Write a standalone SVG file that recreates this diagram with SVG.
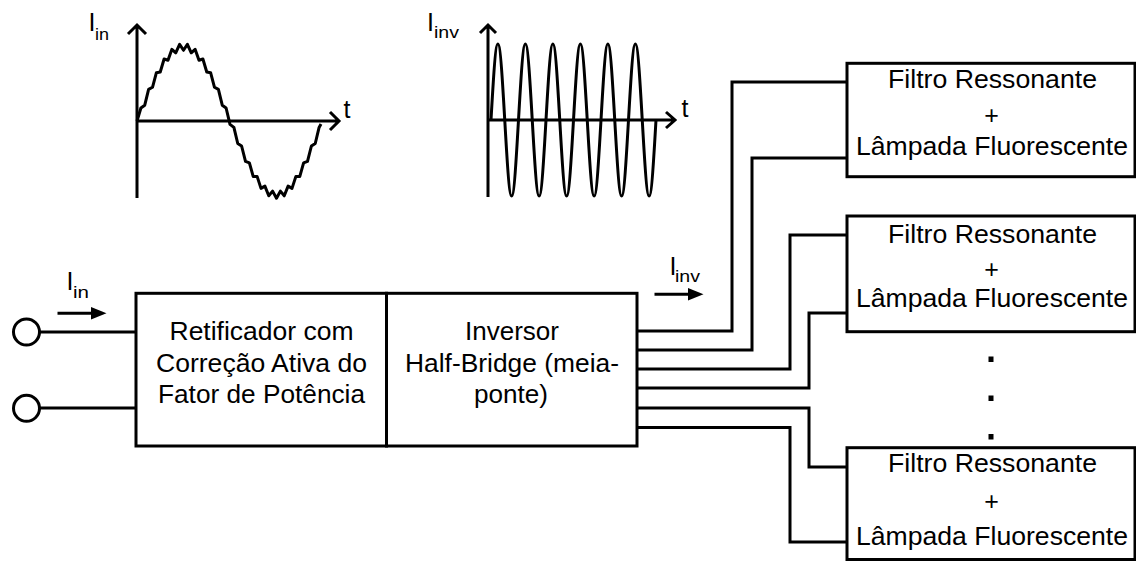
<svg xmlns="http://www.w3.org/2000/svg" width="1136" height="561" viewBox="0 0 1136 561">
<style>
.box{fill:#fff;stroke:#000;stroke-width:3}
.ln{fill:none;stroke:#000;stroke-width:3;stroke-linejoin:miter;stroke-linecap:square}
.ax{fill:none;stroke:#000;stroke-width:3}
.wave{fill:none;stroke:#000;stroke-width:3;stroke-linejoin:round}
.t{font-family:"Liberation Sans",Arial,sans-serif;font-size:25px;fill:#000}
.c{text-anchor:middle}
.s{font-family:"Liberation Sans",Arial,sans-serif;font-size:17px;fill:#000}
</style>
<rect width="1136" height="561" fill="#fff"/>

<g id="plot-iin">
<path class="ax" d="M137,198 V26 M128,34 L137,25 L146,34 M137,121 H339 M330,112 L339,121 L330,130"/>
<polyline class="wave" points="137,121 140.9,108 144.75,105.2 148.6,89.4 152.5,87.3 156.4,72.7 160.25,72 164.1,59 168,60.2 171.9,49.3 175.75,52.8 179.6,44.3 183.5,50.3 187.4,44.3 191.25,52.8 195.1,49.3 199,60.2 202.9,59 206.75,72 210.6,72.7 214.5,87.3 218.4,89.4 222.25,105.2 226.1,108 230,124.3 233.9,127.4 237.75,143.5 241.6,146 245.5,161.3 249.4,162.8 253.25,176.6 257.1,176.4 261,188.4 264.9,186.1 268.75,195.8 272.6,191.1 276.5,198.3 280.4,191.1 284.25,195.8 288.1,186.1 292,188.4 295.9,176.4 299.75,176.6 303.6,162.8 307.5,161.3 311.4,146 315.25,143.5 319.1,127.4 321,124"/>
<text class="t" x="88.5" y="31" font-size="26">I</text><text class="s" x="95" y="40" textLength="14" lengthAdjust="spacingAndGlyphs">in</text>
<text class="t" x="343.5" y="118" font-size="24">t</text>
</g>

<g id="plot-iinv">
<path class="ax" d="M488,197 V26 M480,33 L488,25 L496,33 M488,120 H674 M666,112 L675,120 L666,128"/>
<path class="wave" d="M491,120 c2.242,-38.93 4.387,-76 6.875,-76 s4.633,37.07 6.875,76 s4.387,76 6.875,76 s4.633,-37.07 6.875,-76 s4.387,-76 6.875,-76 s4.633,37.07 6.875,76 s4.387,76 6.875,76 s4.633,-37.07 6.875,-76 s4.387,-76 6.875,-76 s4.633,37.07 6.875,76 s4.387,76 6.875,76 s4.633,-37.07 6.875,-76 s4.387,-76 6.875,-76 s4.633,37.07 6.875,76 s4.387,76 6.875,76 s4.633,-37.07 6.875,-76 s4.387,-76 6.875,-76 s4.633,37.07 6.875,76 s4.387,76 6.875,76 s4.633,-37.07 6.875,-76 s4.387,-76 6.875,-76 s4.633,37.07 6.875,76 s4.387,76 6.875,76 s4.633,-37.07 6.875,-76"/>
<text class="t" x="427" y="31" font-size="24">I</text><text class="s" x="434" y="38" textLength="25" lengthAdjust="spacingAndGlyphs">inv</text>
<text class="t" x="681.5" y="117" font-size="24">t</text>
</g>

<g id="connectors">
<path class="ln" d="M40,332 H136 M39,408 H136"/>
<path class="ln" d="M637,331 H732 V82 H847"/>
<path class="ln" d="M637,350 H752 V158 H847"/>
<path class="ln" d="M637,369 H790 V235 H847"/>
<path class="ln" d="M637,388 H809 V313 H847"/>
<path class="ln" d="M637,408 H809 V467 H847"/>
<path class="ln" d="M637,427.5 H790 V542 H847"/>
<path class="ln" d="M59,313.3 H92"/>
<polygon points="91,307 106.5,313.3 91,319.6"/>
<path class="ln" d="M656,294.3 H689"/>
<polygon points="688,288 703.5,294.3 688,300.6"/>
</g>

<g id="label-iin">
<text class="t" x="66.5" y="290" font-size="26">I</text><text class="s" x="73" y="298.3" textLength="16" lengthAdjust="spacingAndGlyphs">in</text>
</g>
<g id="label-iinv">
<text class="t" x="669.5" y="275" font-size="25">I</text><text class="s" x="675" y="282" textLength="25" lengthAdjust="spacingAndGlyphs">inv</text>
</g>

<g id="terminal-1"><circle class="box" cx="26.5" cy="332" r="13"/></g>
<g id="terminal-2"><circle class="box" cx="26.5" cy="408.3" r="13"/></g>

<g id="rectifier">
<rect class="box" x="136" y="293.3" width="250.5" height="152.7"/>
<text class="t c" x="261.5" y="340" textLength="184" lengthAdjust="spacingAndGlyphs">Retificador com</text>
<text class="t c" x="261.5" y="371.5" textLength="211" lengthAdjust="spacingAndGlyphs">Correção Ativa do</text>
<text class="t c" x="261.5" y="403" textLength="207" lengthAdjust="spacingAndGlyphs">Fator de Potência</text>
</g>

<g id="inverter">
<rect class="box" x="386.5" y="293.3" width="250.5" height="152.7"/>
<text class="t c" x="512" y="340" textLength="94" lengthAdjust="spacingAndGlyphs">Inversor</text>
<text class="t c" x="512" y="371.5" textLength="214" lengthAdjust="spacingAndGlyphs">Half-Bridge (meia-</text>
<text class="t c" x="511" y="403" textLength="74" lengthAdjust="spacingAndGlyphs">ponte)</text>
</g>

<g id="lamp-1">
<rect class="box" x="847" y="63.3" width="288" height="113.4"/>
<text class="t c" x="992.5" y="88.3" textLength="209" lengthAdjust="spacingAndGlyphs">Filtro Ressonante</text>
<text class="t c" x="991.5" y="124">+</text>
<text class="t c" x="992" y="155" textLength="272" lengthAdjust="spacingAndGlyphs">Lâmpada Fluorescente</text>
</g>

<g id="lamp-2">
<rect class="box" x="847" y="216" width="288" height="115.7"/>
<text class="t c" x="992.5" y="243.3" textLength="209" lengthAdjust="spacingAndGlyphs">Filtro Ressonante</text>
<text class="t c" x="991.5" y="278">+</text>
<text class="t c" x="992" y="307.3" textLength="272" lengthAdjust="spacingAndGlyphs">Lâmpada Fluorescente</text>
</g>

<g id="ellipsis">
<rect x="988.5" y="356.5" width="5" height="5.5"/>
<rect x="988.5" y="395.5" width="5" height="5.5"/>
<rect x="988.5" y="434" width="5" height="5.5"/>
</g>

<g id="lamp-3">
<rect class="box" x="847" y="447.7" width="288" height="111.8"/>
<text class="t c" x="992.5" y="471.7" textLength="209" lengthAdjust="spacingAndGlyphs">Filtro Ressonante</text>
<text class="t c" x="991.5" y="509.7">+</text>
<text class="t c" x="992" y="545" textLength="272" lengthAdjust="spacingAndGlyphs">Lâmpada Fluorescente</text>
</g>
</svg>
